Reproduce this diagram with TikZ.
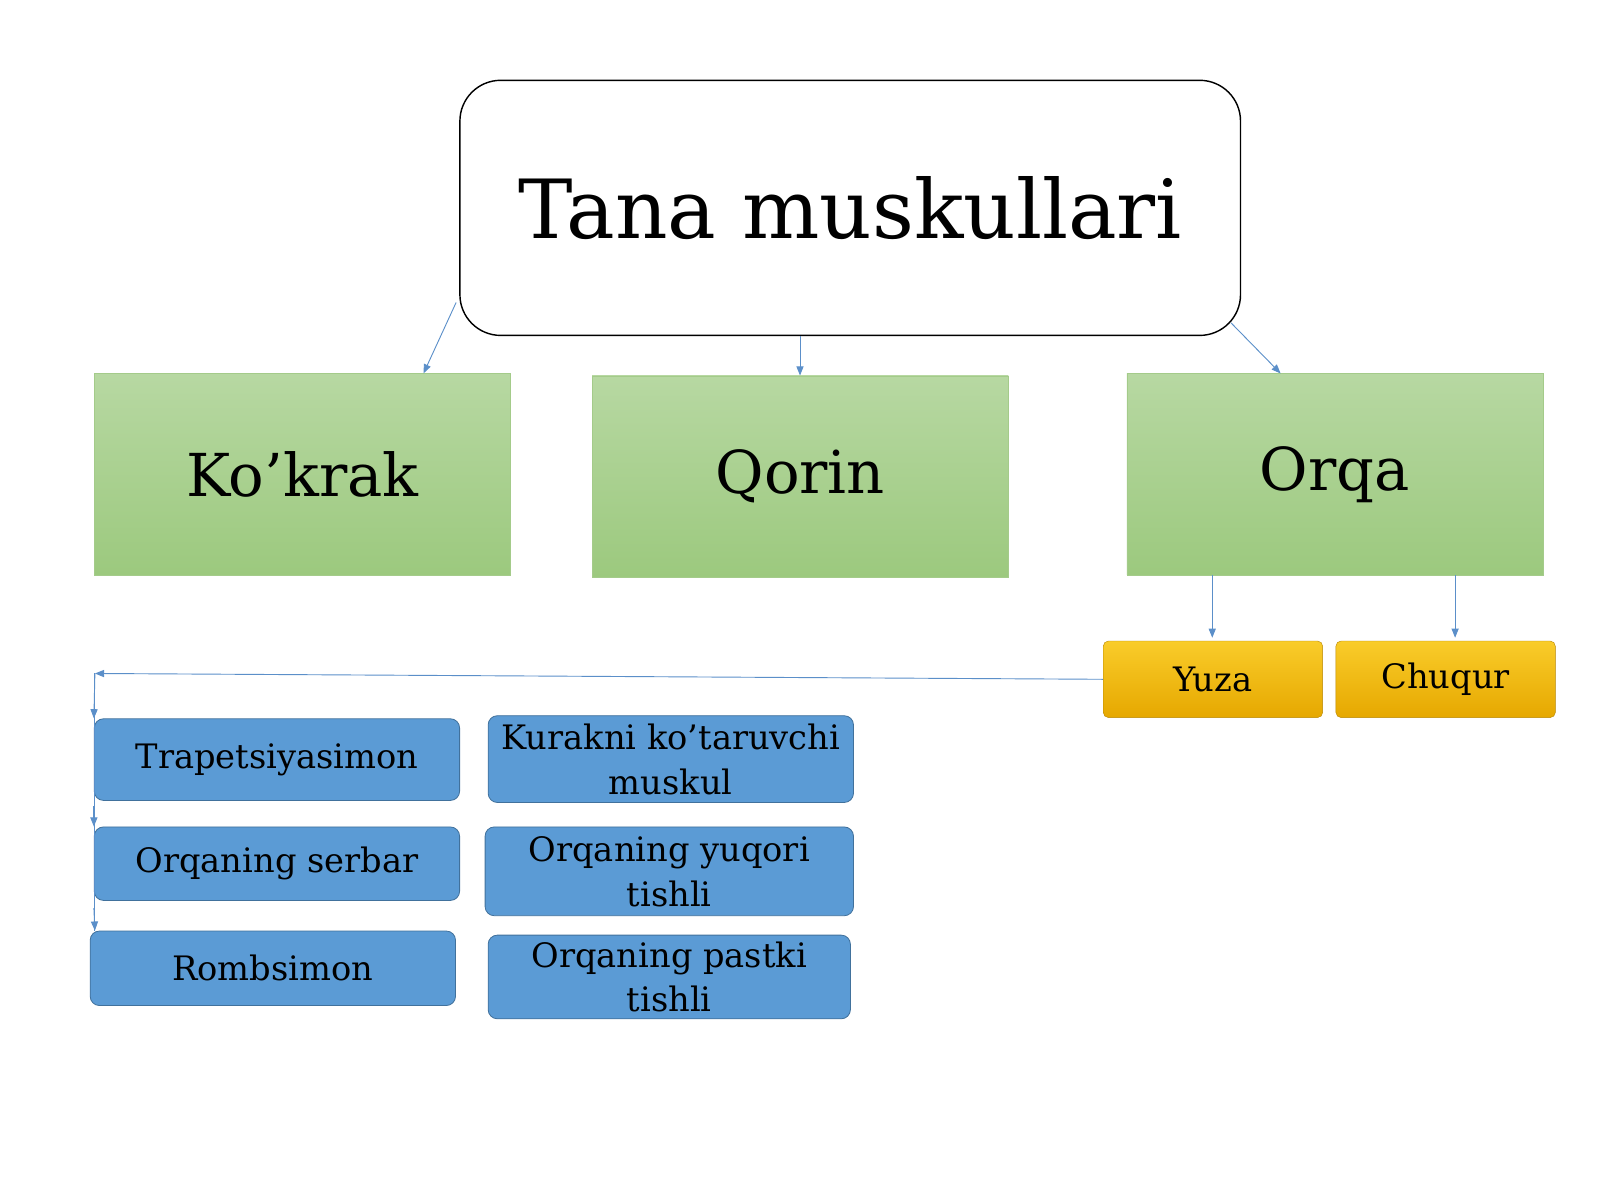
\documentclass[tikz,border=0pt]{standalone}
\usepackage{fontspec}
\setmainfont{DejaVu Serif}
\usetikzlibrary{arrows.meta,calc}
\definecolor{lnk}{HTML}{5B8FC9}
\definecolor{gtop}{HTML}{B7D8A2}
\definecolor{gbot}{HTML}{9CC97E}
\definecolor{gbd}{HTML}{A4CB8A}
\definecolor{ytop}{HTML}{F9CC2A}
\definecolor{ybot}{HTML}{E6A800}
\definecolor{bfill}{HTML}{5B9BD5}
\definecolor{bbd}{HTML}{41719C}
\begin{document}
\begin{tikzpicture}[x=1pt,y=-1pt,
  box/.style n args={4}{anchor=north west,minimum width=#3pt,minimum height=#4pt,inner sep=0pt},
  green/.style={draw=gbd,top color=gtop,bottom color=gbot,font=\fontsize{58}{60}\selectfont},
  yel/.style={draw=ybot!80!black,rounded corners=5pt,top color=ytop,bottom color=ybot,font=\fontsize{33}{36}\selectfont},
  blu/.style={draw=bbd,thick,fill=bfill,rounded corners=9pt,font=\fontsize{33}{44}\selectfont,align=center},
  arr/.style={lnk,line width=0.9pt,-{Triangle[length=9pt,width=7pt]}},
  ln/.style={lnk,line width=0.9pt}]
\useasboundingbox (0,0) rectangle (1568,1176);
\node[draw,line width=1.4pt,rounded corners=40pt,anchor=north west,minimum width=765pt,minimum height=250pt,font=\fontsize{80}{80}\selectfont] (top) at (450,78) {Tana muskullari};
\node[green,anchor=north west,minimum width=408pt,minimum height=197pt] (kok) at (92,366) {Ko’krak};
\node[green,anchor=north west,minimum width=408pt,minimum height=197pt] (qor) at (580,368) {Qorin};
\node[green,anchor=north west,minimum width=408pt,minimum height=197pt] (orq) at (1104,366) {Orqa};
\node[yel,anchor=north west,minimum width=215pt,minimum height=75pt] (yuz) at (1081,628) {Yuza};
\node[yel,anchor=north west,minimum width=215pt,minimum height=75pt] (chq) at (1309,628) {Chuqur};
\node[blu,anchor=north west,minimum width=358pt,minimum height=80pt] (tra) at (92,704) {Trapetsiyasimon};
\node[blu,anchor=north west,minimum width=358pt,minimum height=72pt] (ser) at (92,810) {Orqaning serbar};
\node[blu,anchor=north west,minimum width=358pt,minimum height=73pt] (rom) at (88,912) {Rombsimon};
\node[blu,anchor=north west,minimum width=358pt,minimum height=85pt] (kur) at (478,701) {Kurakni ko'taruvchi\\muskul};
\node[blu,anchor=north west,minimum width=361pt,minimum height=87pt] (yuq) at (475,810) {Orqaning yuqori\\tishli};
\node[blu,anchor=north west,minimum width=355pt,minimum height=82pt] (pas) at (478,916) {Orqaning pastki\\tishli};
\coordinate (c1) at (93,660);
\draw[arr] ($(top.south west)+(-3,-33)$) -- (kok.north west -| 415,0);
\draw[arr] (top.south -| 784,0) -- (qor.north -| 784,0);
\draw[arr] ($(top.south east)+(-10,-13)$) -- (orq.north west -| 1255,0);
\draw[arr] (orq.south -| 1188,0) -- ($(yuz.north -| 1188,0)+(0,-3)$);
\draw[arr] (orq.south -| 1426,0) -- ($(chq.north -| 1426,0)+(0,-3)$);
\draw[arr] (yuz.west) -- (c1);
\draw[ln] (c1) -- (93,912);
\draw[arr] (c1) -- (tra.north west);
\draw[arr] (tra.south west |- 0,790) -- (ser.north west);
\draw[arr] (ser.south west |- 0,890) -- ($(rom.north west)+(5,0)$);
\end{tikzpicture}
\end{document}
